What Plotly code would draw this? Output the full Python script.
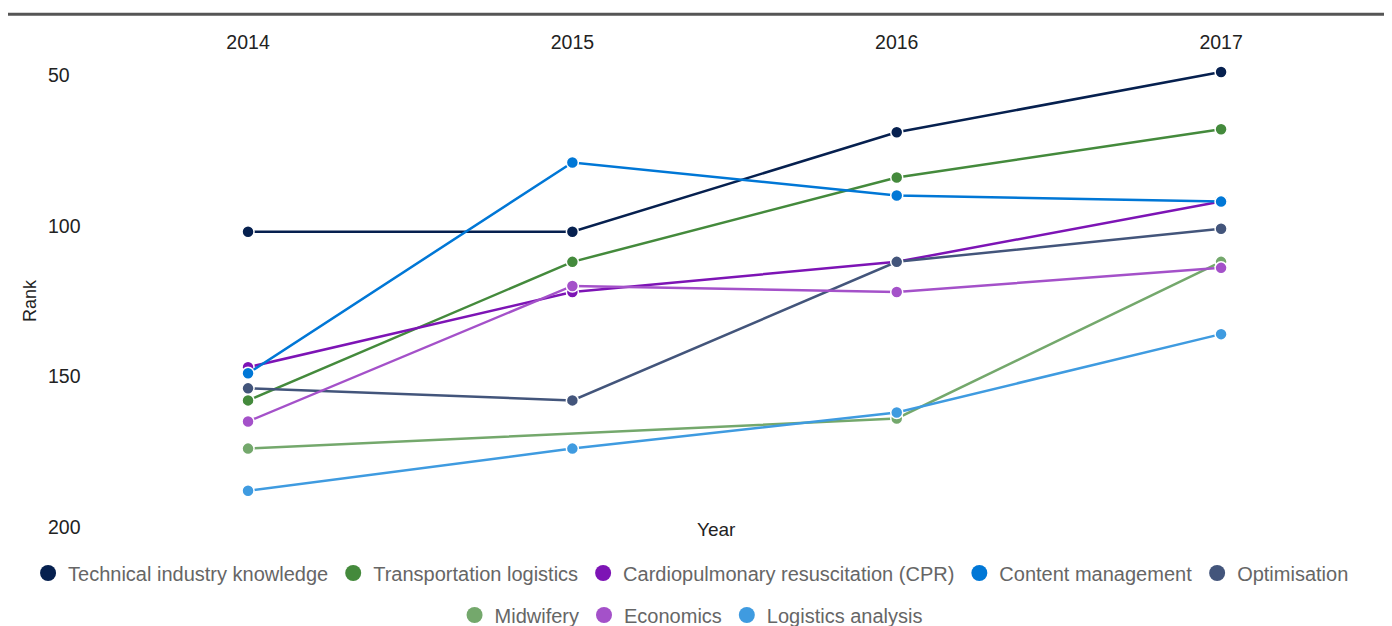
import plotly.graph_objects as go

years = ['2014', '2015', '2016', '2017']

skills = [
    'Technical industry knowledge',
    'Transportation logistics',
    'Cardiopulmonary resuscitation (CPR)',
    'Content management',
    'Optimisation',
    'Midwifery',
    'Economics',
    'Logistics analysis',
]

technical = [102, 102, 69, 49]
transport = [158, 112, 84, 68]
cpr = [147, 122, 112, 92]
content = [149, 79, 90, 92]
optimisation = [154, 158, 112, 101]
midwifery = [174, None, 164, 112]
economics = [165, 120, 122, 114]
logistics = [188, 174, 162, 136]

ranks = [technical, transport, cpr, content, optimisation, midwifery, economics, logistics]

colors = ['#06204f', '#448a3c', '#7d14b5', '#0077d6', '#43557b', '#74a86c', '#a451c9', '#3f9be0']

fig = go.Figure()

for name, vals, col in zip(skills, ranks, colors):
    fig.add_trace(go.Scatter(
        x=years, y=vals, name=name, mode='lines+markers',
        connectgaps=True, legendgroup=name, showlegend=False,
        line=dict(color=col, width=2.5),
        marker=dict(color=col, size=12, line=dict(color='white', width=1.5)),
    ))

# legend entries (circles only), split over two rows
for i, (name, col) in enumerate(zip(skills, colors)):
    fig.add_trace(go.Scatter(
        x=[None], y=[None], name=name, mode='markers', legendgroup=name,
        marker=dict(color=col, size=20),
        legend='legend' if i < 5 else 'legend2',
    ))

legend_style = dict(orientation='h', xref='container', yref='container',
                    xanchor='center', yanchor='middle',
                    font=dict(size=20, color='#666666'), itemsizing='trace',
                    bgcolor='rgba(0,0,0,0)')

fig.update_layout(
    width=1392, height=626,
    plot_bgcolor='white', paper_bgcolor='white',
    font=dict(family='Liberation Sans, Arial, sans-serif', size=19, color='#222222'),
    margin=dict(l=37, r=20, t=52, b=92, autoexpand=False),
    xaxis=dict(type='category', side='top', range=[-0.626, 3.49], automargin=False,
               showgrid=False, showline=False, zeroline=False, ticks='',
               ticklabelstandoff=6, tickfont=dict(size=19.5, color='#222222')),
    yaxis=dict(range=[205, 45], autorange=False, tickvals=[50, 100, 150, 200],
               ticklabelposition='inside', automargin=False, showgrid=False,
               showline=False, zeroline=False, ticks='',
               title=dict(text='Rank', standoff=6, font=dict(size=18)),
               tickfont=dict(size=19.5, color='#222222')),
    legend=dict(x=0.4907, y=0.0974, **legend_style),
    legend2=dict(x=0.4907, y=0.0304, **legend_style),
    shapes=[dict(type='line', xref='paper', yref='paper',
                 x0=-0.028, x1=1.004, y0=1.095, y1=1.095,
                 line=dict(color='#555555', width=3))],
    annotations=[dict(text='Year', xref='paper', yref='paper', x=0.503, y=0.025,
                      yanchor='middle', showarrow=False,
                      font=dict(size=19, color='#222222'))],
)

fig.write_html('out.html')
